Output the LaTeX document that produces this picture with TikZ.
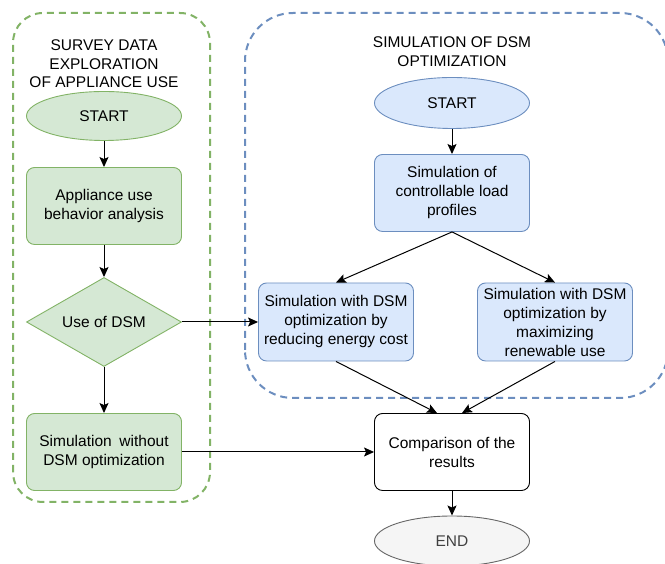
\documentclass[tikz,border=0pt]{standalone}
\usepackage{fontspec}
\setmainfont{Liberation Sans}
\usetikzlibrary{shapes.geometric,arrows.meta}
\definecolor{gfill}{HTML}{D5E8D4}
\definecolor{gline}{HTML}{82B366}
\definecolor{bfill}{HTML}{DAE8FC}
\definecolor{bline}{HTML}{6C8EBF}
\definecolor{efill}{HTML}{F5F5F5}
\definecolor{eline}{HTML}{666666}
\begin{document}
\begin{tikzpicture}[x=1pt,y=1pt,
	every node/.style={font=\fontsize{15.5}{19}\selectfont,align=center,text=black},
	box/.style={draw,rounded corners=8pt,minimum width=155pt,minimum height=77pt,inner sep=2pt,line width=0.9pt},
	gbox/.style={box,draw=gline,fill=gfill},
	bbox/.style={box,draw=bline,fill=bfill},
	oval/.style={ellipse,draw,minimum width=155pt,minimum height=49pt,inner sep=0pt,line width=0.9pt},
	frame/.style={dash pattern=on 7pt off 5pt,line width=2pt},
	arr/.style={-{Stealth[length=10pt,width=9pt,inset=2pt]},line width=1pt}]
	\useasboundingbox (0,0) rectangle (665,564);
	% containers
	\draw[frame,draw=gline,rounded corners=30pt] (13,62) rectangle (210,551);
	\draw[frame,draw=bline,rounded corners=48pt] (245,166) rectangle (668,551);
	\node[font=\fontsize{15.5}{18.5}\selectfont] (gtitle) at (104,500) {SURVEY DATA\\EXPLORATION\\OF APPLIANCE USE};
	\node (btitle) at (452,512) {SIMULATION OF DSM\\OPTIMIZATION};
	% survey side
	\node[oval,draw=gline,fill=gfill] (gstart) at (104,448) {START};
	\node[gbox] (behav) at (104,358) {Appliance use\\behavior analysis};
	\node[diamond,aspect=1.74,draw=gline,fill=gfill,minimum width=155pt,minimum height=89pt,inner sep=0pt,line width=0.9pt] (usedsm) at (104,242) {Use of DSM};
	\node[gbox] (nodsm) at (104,112) {Simulation\enspace without\\DSM optimization};
	% simulation side
	\node[oval,draw=bline,fill=bfill,minimum height=51pt] (bstart) at (452,461) {START};
	\node[bbox] (loads) at (452,371) {Simulation of\\controllable load\\profiles};
	\node[bbox,minimum height=78pt] (cost) at (336,242) {Simulation with DSM\\optimization by\\reducing energy cost};
	\node[bbox,minimum height=78pt] (renew) at (555,242) {Simulation with DSM\\optimization by\\maximizing\\renewable use};
	\node[box,draw=black,fill=white] (comp) at (452,112) {Comparison of the\\results};
	\node[oval,draw=eline,fill=efill,minimum height=50pt,text=black!75] (end) at (452,23) {END};
	% connectors
	\draw[arr] (gstart) -- (behav);
	\draw[arr] (behav) -- (usedsm);
	\draw[arr] (usedsm) -- (nodsm);
	\draw[arr] (usedsm.east) -- (cost.west);
	\draw[arr] (nodsm.east) -- (comp.west);
	\draw[arr] (bstart) -- (loads);
	\draw[arr] (loads.south) -- (cost.north);
	\draw[arr] (loads.south) -- (renew.north);
	\draw[arr] (cost.south) -- ([xshift=-15pt]comp.north);
	\draw[arr] (renew.south) -- ([xshift=10pt]comp.north);
	\draw[arr] (comp) -- (end);
\end{tikzpicture}
\end{document}
